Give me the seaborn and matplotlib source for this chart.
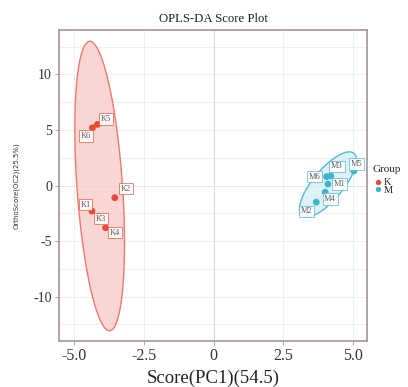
import numpy as np
import pandas as pd
import matplotlib
matplotlib.use("Agg")
import matplotlib.pyplot as plt
from matplotlib.patches import Polygon
import seaborn as sns

# ---- data ----
samples = ["K1", "K2", "K3", "K4", "K5", "K6", "M1", "M2", "M3", "M4", "M5", "M6"]
groups = ["K"] * 6 + ["M"] * 6
pc1 = [-4.37, -3.55, -4.12, -3.88, -4.17, -4.35, 4.10, 3.68, 4.20, 4.00, 5.03, 4.05]
oc2 = [-2.3, -1.1, -2.8, -3.8, 5.5, 5.2, 0.13, -1.50, 0.85, -0.6, 1.3, 0.80]
x_ticks = [-5.0, -2.5, 0, 2.5, 5.0]
x_tick_labels = ["-5.0", "-2.5", "0", "2.5", "5.0"]
y_ticks = [-10, -5, 0, 5, 10]
y_tick_labels = ["-10", "-5", "0", "5", "10"]

df = pd.DataFrame({"sample": samples, "Group": groups, "PC1": pc1, "OC2": oc2})

# ---- style ----
palette = {"K": "#E64B35", "M": "#3FB4CF"}
edge_col = {"K": "#EE7A6E", "M": "#4DBBD5"}
fill_col = {"K": "#F8C9C6", "M": "#D4EEF4"}
label_offsets = {  # label offsets in points (repel-like placement)
    "K5": (6, 4), "K6": (-4.5, -6), "K2": (8, 6.5), "K1": (-4.5, 4.5),
    "K3": (1.5, -1.5), "K4": (7, -3.5),
    "M5": (2, 5), "M3": (4.5, 7), "M6": (-9, 0), "M1": (8, 0),
    "M4": (3.5, -5), "M2": (-7, -6.5),
}


def cov_trob(x, nu=5, maxit=25, tol=0.01):
    n, p = x.shape
    wt = np.ones(n)
    loc = x.mean(axis=0)
    w = np.sqrt(wt)
    for _ in range(maxit):
        w0 = w
        X = x - loc
        _, d, vt = np.linalg.svd(np.sqrt(w / w.sum())[:, None] * X, full_matrices=False)
        wX = X @ vt.T @ np.diag(1 / d)
        Q = (wX ** 2).sum(axis=1)
        w = (wt * (nu + p)) / (nu + Q)
        loc = (w[:, None] * x).sum(axis=0) / w.sum()
        if np.all(np.abs(w - w0) < tol):
            break
    X = x - loc
    cov = (np.sqrt(w)[:, None] * X).T @ (np.sqrt(w)[:, None] * X) / wt.sum()
    return loc, cov


# qf(0.95, 2, 5) for n = 6 samples per group
F95_2_5 = 5.786135
radius = np.sqrt(2 * F95_2_5)

sns.set_theme(style="white")
plt.rcParams["font.family"] = ["Liberation Serif", "DejaVu Serif"]

fig = plt.figure(figsize=(4.08, 3.87), dpi=100)
ax = fig.add_axes([59 / 408, 1 - 341 / 387, 308 / 408, 311 / 387])

ax.set_xlim(-5.55, 5.5)
ax.set_ylim(-14, 14)

# grid (major + minor)
for v in np.arange(-5, 5.01, 2.5):
    ax.axvline(v, color="#EDEDED", lw=0.6, zorder=0)
for v in np.arange(-12.5, 12.6, 2.5):
    ax.axhline(v, color="#EDEDED", lw=0.6, zorder=0)
ax.axvline(0, color="#D9D9D9", lw=0.8, zorder=0)
ax.axhline(0, color="#E6E6E6", lw=0.7, zorder=0)

# confidence ellipses (multivariate t, 95%) computed from the data
theta = np.linspace(0, 2 * np.pi, 200)
circle = np.column_stack([np.cos(theta), np.sin(theta)])
for g in ["K", "M"]:
    sub = df[df.Group == g]
    xy = sub[["PC1", "OC2"]].to_numpy()
    mu, cov = cov_trob(xy)
    chol = np.linalg.cholesky(cov).T
    pts = mu + radius * circle @ chol
    ax.add_patch(Polygon(pts, closed=True, facecolor=fill_col[g],
                         edgecolor="none", alpha=0.75, zorder=1))
    ax.add_patch(Polygon(pts, closed=True, facecolor="none",
                         edgecolor=edge_col[g], lw=1.0, zorder=2))

sns.scatterplot(data=df, x="PC1", y="OC2", hue="Group", palette=palette,
                s=24, edgecolor="none", ax=ax, zorder=3, legend=True)

for _, r in df.iterrows():
    ax.annotate(r["sample"], (r["PC1"], r["OC2"]), xytext=label_offsets[r["sample"]],
                textcoords="offset points", ha="center", va="center",
                fontsize=6, color="#5A5A5A", zorder=4,
                bbox=dict(boxstyle="square,pad=0.2", fc="white",
                          ec=palette[r["Group"]], lw=0.5, alpha=0.9))

ax.set_xticks(x_ticks)
ax.set_xticklabels(x_tick_labels)
ax.set_yticks(y_ticks)
ax.set_yticklabels(y_tick_labels)
ax.tick_params(axis="both", which="major", labelsize=10, colors="#333333",
               length=3, width=0.6, direction="out", pad=2, bottom=True, left=True)
ax.tick_params(axis="x", labelsize=11.5)
ax.tick_params(axis="both", color="#999999")

for sp in ax.spines.values():
    sp.set_color("#A69494")
    sp.set_linewidth(1.2)

ax.set_title("OPLS-DA Score Plot", fontsize=9.2, color="#222222", pad=6)
ax.set_xlabel("Score(PC1)(54.5)", fontsize=13.5, color="#222222", labelpad=4)
ax.set_ylabel("OrthoScore(OC2)(25.5%)", fontsize=5,
              family=["DejaVu Sans"], color="#333333", labelpad=10)

leg = ax.legend(title="Group", loc="upper left", bbox_to_anchor=(1.005, 0.58),
                frameon=False, fontsize=7.5, title_fontsize=8,
                handletextpad=0.1, labelspacing=-0.15, borderaxespad=0,
                markerscale=0.8, handlelength=1.0)
leg._legend_box.align = "left"
leg._legend_box.sep = 3

fig.savefig("out.png", dpi=100)
